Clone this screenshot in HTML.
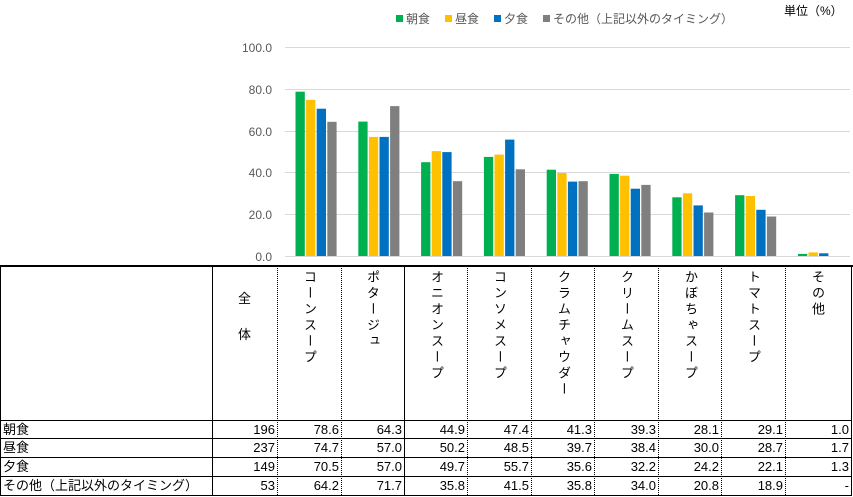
<!DOCTYPE html>
<html><head><meta charset="utf-8"><style>
body{margin:0;width:853px;height:497px;background:#fff;overflow:hidden;position:relative;font-family:"Liberation Sans","Noto Sans CJK JP",sans-serif;}
svg{position:absolute;left:0;top:0}
.v{position:absolute;top:270px;writing-mode:vertical-rl;font-size:13px;line-height:16px;letter-spacing:3px;color:#000;}
.c{position:absolute;font-size:13px;color:#000;}
</style></head><body>
<svg width="853" height="497" xmlns="http://www.w3.org/2000/svg" font-family="Liberation Sans, Noto Sans CJK JP, sans-serif">
<g stroke="#d9d9d9" stroke-width="1">
<line x1="285" x2="850" y1="47.5" y2="47.5"/><line x1="285" x2="850" y1="89.5" y2="89.5"/>
<line x1="285" x2="850" y1="131.5" y2="131.5"/><line x1="285" x2="850" y1="172.5" y2="172.5"/>
<line x1="285" x2="850" y1="214.5" y2="214.5"/><line x1="285" x2="850" y1="256.5" y2="256.5"/>
</g>
<g font-size="12" fill="#595959" text-anchor="end">
<text x="272" y="52">100.0</text><text x="272" y="94">80.0</text><text x="272" y="136">60.0</text>
<text x="272" y="177">40.0</text><text x="272" y="219">20.0</text><text x="272" y="261">0.0</text>
</g>
<g font-size="12" fill="#595959">
<rect x="396" y="15" width="7" height="7" fill="#00b050"/><text x="406" y="23">朝食</text>
<rect x="445" y="15" width="7" height="7" fill="#ffc000"/><text x="455" y="23">昼食</text>
<rect x="494" y="15" width="7" height="7" fill="#0070c0"/><text x="504" y="23">夕食</text>
<rect x="543" y="15" width="7" height="7" fill="#7f7f7f"/><text x="553" y="23">その他（上記以外のタイミング）</text>
</g>
<text x="784" y="15" font-size="12" fill="#000">単位（%）</text>
<g id="bars"></g>
<line x1="0" x2="853" y1="266" y2="266" stroke="#000" stroke-width="2"/>
<g stroke="#000" stroke-width="1">
<line x1="0" x2="851" y1="420.5" y2="420.5"/><line x1="0" x2="851" y1="438.5" y2="438.5"/>
<line x1="0" x2="851" y1="457.5" y2="457.5"/><line x1="0" x2="851" y1="476.5" y2="476.5"/>
<line x1="0" x2="851" y1="495.5" y2="495.5"/>
<line x1="0.5" x2="0.5" y1="266" y2="496"/><line x1="851.5" x2="851.5" y1="266" y2="496"/>
<line x1="212.5" x2="212.5" y1="266" y2="496"/><line x1="404.5" x2="404.5" y1="266" y2="496"/>
</g>
<g stroke="#000" stroke-width="1" stroke-dasharray="1,1">
<line x1="277.5" x2="277.5" y1="266" y2="496"/><line x1="341.5" x2="341.5" y1="266" y2="496"/>
<line x1="467.5" x2="467.5" y1="266" y2="496"/><line x1="531.5" x2="531.5" y1="266" y2="496"/>
<line x1="594.5" x2="594.5" y1="266" y2="496"/><line x1="658.5" x2="658.5" y1="266" y2="496"/>
<line x1="721.5" x2="721.5" y1="266" y2="496"/><line x1="785.5" x2="785.5" y1="266" y2="496"/>
</g>
</svg>
<div class="c" style="left:238px;top:288px">全</div>
<div class="c" style="left:238px;top:324px">体</div>
<div class="v" style="left:301px">コーンスープ</div>
<div class="v" style="left:364px">ポタージュ</div>
<div class="v" style="left:428px">オニオンスープ</div>
<div class="v" style="left:491px">コンソメスープ</div>
<div class="v" style="left:555px">クラムチャウダー</div>
<div class="v" style="left:618px">クリームスープ</div>
<div class="v" style="left:682px">かぼちゃスープ</div>
<div class="v" style="left:745px">トマトスープ</div>
<div class="v" style="left:809px">その他</div>
<div id="tbl"></div>
<script>
const d=[[78.6,74.7,70.5,64.2],[64.3,57.0,57.0,71.7],[44.9,50.2,49.7,35.8],[47.4,48.5,55.7,41.5],[41.3,39.7,35.6,35.8],[39.3,38.4,32.2,34.0],[28.1,30.0,24.2,20.8],[29.1,28.7,22.1,18.9],[1.0,1.7,1.3,0]];
const col=["#00b050","#ffc000","#0070c0","#7f7f7f"];
let s="";
d.forEach((g,i)=>{const cx=316.5+i*62.8;g.forEach((v,j)=>{if(!v)return;const h=v*2.09;s+=`<rect x="${(cx-21+j*10.6).toFixed(1)}" y="${(256-h).toFixed(1)}" width="9.3" height="${h.toFixed(1)}" fill="${col[j]}"/>`;});});
document.getElementById("bars").innerHTML=s;
const rows=["朝食","昼食","夕食","その他（上記以外のタイミング）"],tot=[196,237,149,53];
const ys=[421,439,458,477],edges=[277,341,404,467,531,594,658,721,785,851];
let t="";
rows.forEach((r,k)=>{t+=`<div class="c" style="left:3px;top:${ys[k]}px;line-height:18px">${r}</div>`;
const vals=[tot[k]].concat(d.map(g=>g[3]===0&&k===3?"-":g[k].toFixed(1)));
vals.forEach((v,m)=>{t+=`<div class="c" style="right:${853-edges[m]+2}px;top:${ys[k]}px;line-height:18px">${v}</div>`;});});
document.getElementById("tbl").innerHTML=t;
</script>
</body></html>
